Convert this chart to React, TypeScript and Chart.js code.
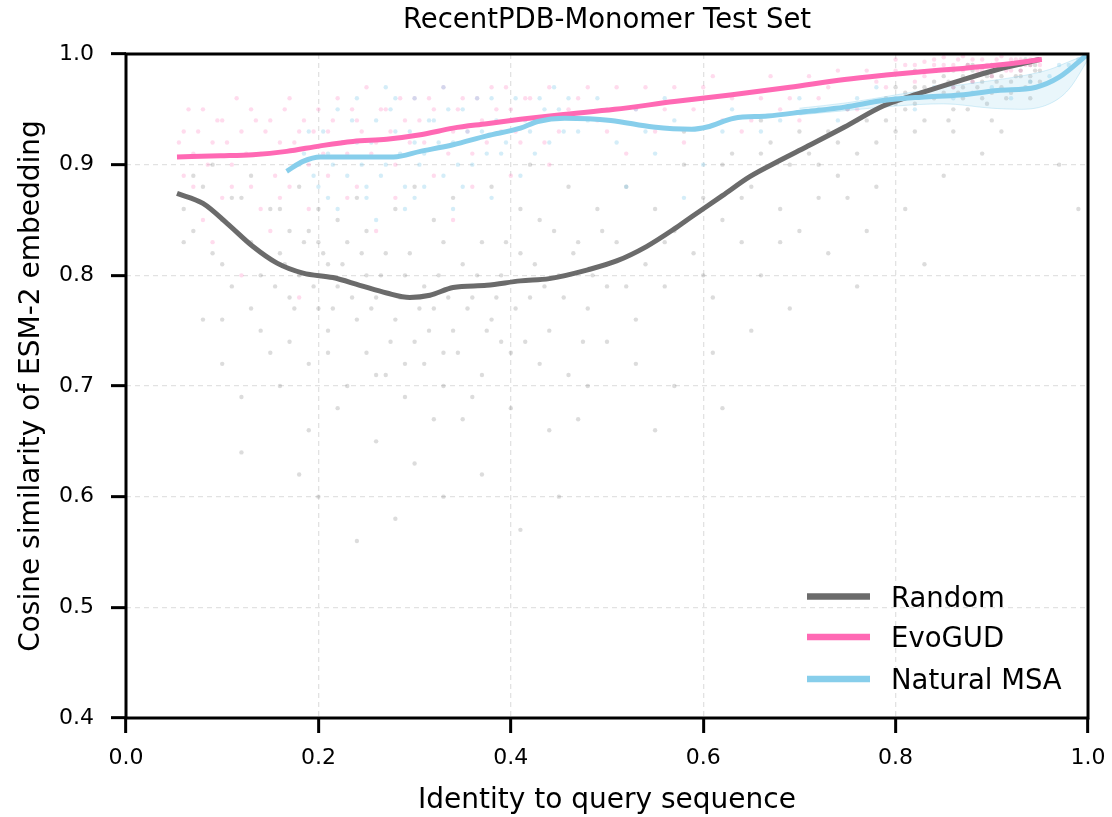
import React, { useEffect, useRef } from 'react';
import { Chart, registerables } from 'chart.js';

Chart.register(...registerables);

const FONT = "'DejaVu Sans', sans-serif";
const titleText = 'RecentPDB-Monomer Test Set';
const xAxisTitle = 'Identity to query sequence';
const yAxisTitle = 'Cosine similarity of ESM-2 embedding';
const seriesNames = ['Random', 'EvoGUD', 'Natural MSA'];
const seriesColors = ['#6b6b6b', '#ff69b4', '#87ceeb'];
const scatterColors = ['rgba(110,110,110,0.24)', 'rgba(255,105,180,0.24)', 'rgba(135,206,235,0.36)'];

// Smoothed trend lines
const randomX = [0.053, 0.08, 0.105, 0.132, 0.157, 0.184, 0.215, 0.243, 0.271, 0.295, 0.316, 0.34, 0.375, 0.41, 0.44, 0.48, 0.51, 0.541, 0.57, 0.588, 0.62, 0.648, 0.68, 0.707, 0.747, 0.787, 0.827, 0.867, 0.906, 0.95];
const randomY = [0.874, 0.865, 0.847, 0.826, 0.811, 0.802, 0.798, 0.791, 0.784, 0.78, 0.782, 0.789, 0.791, 0.795, 0.797, 0.805, 0.813, 0.826, 0.842, 0.853, 0.872, 0.889, 0.904, 0.916, 0.934, 0.953, 0.965, 0.976, 0.986, 0.995];

const evoX = [0.053, 0.098, 0.132, 0.167, 0.202, 0.236, 0.271, 0.306, 0.34, 0.375, 0.41, 0.45, 0.508, 0.57, 0.628, 0.69, 0.747, 0.79, 0.827, 0.87, 0.906, 0.952];
const evoY = [0.907, 0.908, 0.909, 0.912, 0.917, 0.921, 0.923, 0.927, 0.933, 0.937, 0.941, 0.945, 0.95, 0.957, 0.963, 0.97, 0.977, 0.981, 0.984, 0.987, 0.99, 0.995];

const msaX = [0.167, 0.184, 0.202, 0.236, 0.278, 0.306, 0.34, 0.375, 0.41, 0.428, 0.456, 0.504, 0.548, 0.588, 0.604, 0.632, 0.667, 0.707, 0.747, 0.787, 0.827, 0.867, 0.906, 0.946, 0.97, 1.0];
const msaY = [0.894, 0.903, 0.907, 0.907, 0.907, 0.912, 0.918, 0.926, 0.933, 0.939, 0.942, 0.94, 0.934, 0.932, 0.934, 0.942, 0.944, 0.948, 0.952, 0.958, 0.961, 0.963, 0.967, 0.97, 0.979, 1.0];

// Confidence band of Natural MSA (right side)
const bandX = [0.7, 0.75, 0.8, 0.85, 0.9, 0.93, 0.96, 0.98, 1.0];
const bandLow = [0.945, 0.949, 0.953, 0.955, 0.951, 0.95, 0.955, 0.968, 0.995];
const bandHigh = [0.951, 0.956, 0.963, 0.97, 0.976, 0.98, 0.986, 0.993, 1.0];

// Individual samples (scatter clouds), [x, y]
const randomPoints: number[][] = [
  [0.06, 0.86], [0.07, 0.84], [0.08, 0.88], [0.09, 0.82], [0.1, 0.85], [0.11, 0.79], [0.12, 0.87], [0.13, 0.83], [0.14, 0.8], [0.15, 0.86],
  [0.08, 0.76], [0.1, 0.72], [0.12, 0.69], [0.14, 0.75], [0.09, 0.9], [0.13, 0.89],
  [0.16, 0.82], [0.17, 0.78], [0.18, 0.8], [0.19, 0.84], [0.2, 0.77], [0.21, 0.81], [0.22, 0.79], [0.23, 0.83], [0.24, 0.76], [0.25, 0.8],
  [0.17, 0.74], [0.19, 0.72], [0.21, 0.75], [0.23, 0.7], [0.16, 0.86], [0.18, 0.88], [0.2, 0.86], [0.22, 0.85], [0.24, 0.87],
  [0.19, 0.66], [0.22, 0.68], [0.25, 0.73], [0.18, 0.62], [0.24, 0.56], [0.2, 0.6],
  [0.26, 0.78], [0.27, 0.82], [0.28, 0.76], [0.29, 0.8], [0.3, 0.74], [0.31, 0.79], [0.32, 0.77], [0.33, 0.83], [0.34, 0.75], [0.35, 0.81],
  [0.27, 0.71], [0.29, 0.69], [0.31, 0.72], [0.33, 0.7], [0.28, 0.86], [0.3, 0.88], [0.32, 0.85], [0.34, 0.87],
  [0.26, 0.65], [0.3, 0.63], [0.28, 0.58], [0.33, 0.6], [0.35, 0.67],
  [0.36, 0.78], [0.37, 0.83], [0.38, 0.76], [0.39, 0.8], [0.4, 0.73], [0.41, 0.82], [0.42, 0.78], [0.43, 0.85], [0.44, 0.75], [0.45, 0.8],
  [0.46, 0.71], [0.47, 0.83], [0.48, 0.77], [0.49, 0.86], [0.5, 0.79], [0.38, 0.88], [0.42, 0.9], [0.46, 0.88],
  [0.4, 0.68], [0.44, 0.66], [0.48, 0.7], [0.37, 0.62], [0.45, 0.6], [0.41, 0.57],
  [0.51, 0.83], [0.52, 0.88], [0.53, 0.76], [0.54, 0.81], [0.55, 0.86], [0.56, 0.79], [0.57, 0.84], [0.58, 0.9], [0.59, 0.82], [0.6, 0.87],
  [0.61, 0.78], [0.62, 0.85], [0.63, 0.91], [0.64, 0.83], [0.65, 0.88], [0.66, 0.8], [0.67, 0.92], [0.68, 0.86], [0.69, 0.9], [0.7, 0.84],
  [0.53, 0.72], [0.57, 0.7], [0.61, 0.73], [0.65, 0.75], [0.69, 0.77], [0.55, 0.66], [0.62, 0.68], [0.58, 0.93], [0.66, 0.94],
  [0.71, 0.91], [0.72, 0.87], [0.73, 0.93], [0.74, 0.89], [0.75, 0.95], [0.76, 0.91], [0.77, 0.94], [0.78, 0.88], [0.79, 0.96], [0.8, 0.93],
  [0.81, 0.95], [0.82, 0.97], [0.83, 0.94], [0.84, 0.96], [0.85, 0.98], [0.86, 0.95], [0.87, 0.97], [0.88, 0.99], [0.89, 0.96], [0.9, 0.98],
  [0.91, 0.97], [0.92, 0.99], [0.93, 0.98], [0.94, 0.99], [0.95, 0.985], [0.73, 0.82], [0.77, 0.84], [0.81, 0.86], [0.85, 0.89], [0.89, 0.91],
  [0.76, 0.79], [0.83, 0.81], [0.91, 0.93], [0.86, 0.97], [0.88, 0.975], [0.9, 0.965], [0.92, 0.975], [0.94, 0.98], [0.84, 0.975], [0.8, 0.955],
  [0.155, 0.79], [0.165, 0.81], [0.175, 0.77], [0.185, 0.83], [0.195, 0.79], [0.205, 0.82], [0.215, 0.77], [0.225, 0.81], [0.235, 0.78], [0.245, 0.82],
  [0.255, 0.77], [0.265, 0.8], [0.275, 0.74], [0.285, 0.78], [0.295, 0.82], [0.305, 0.77], [0.315, 0.75], [0.325, 0.8], [0.335, 0.78], [0.345, 0.73],
  [0.355, 0.77], [0.365, 0.8], [0.375, 0.75], [0.385, 0.78], [0.395, 0.83], [0.405, 0.77], [0.415, 0.74], [0.425, 0.81], [0.435, 0.79], [0.445, 0.84],
  [0.455, 0.78], [0.465, 0.82], [0.475, 0.74], [0.485, 0.8], [0.495, 0.84], [0.17, 0.84], [0.21, 0.73], [0.25, 0.84], [0.29, 0.72], [0.33, 0.73],
  [0.37, 0.71], [0.41, 0.86], [0.2, 0.83], [0.26, 0.71], [0.32, 0.67], [0.36, 0.69], [0.39, 0.74], [0.43, 0.72], [0.47, 0.67], [0.5, 0.74],
  [0.52, 0.79], [0.56, 0.83], [0.6, 0.8], [0.64, 0.87], [0.68, 0.83], [0.72, 0.9], [0.75, 0.87], [0.78, 0.92], [0.82, 0.93], [0.855, 0.94],
  [0.865, 0.965], [0.875, 0.95], [0.885, 0.97], [0.895, 0.955], [0.905, 0.975], [0.915, 0.96], [0.925, 0.98], [0.935, 0.97], [0.945, 0.985], [0.95, 0.975],
  [0.87, 0.98], [0.9, 0.985], [0.93, 0.99], [0.82, 0.955], [0.79, 0.94], [0.06, 0.83], [0.07, 0.89], [0.1, 0.81], [0.11, 0.87], [0.13, 0.77],
  [0.15, 0.73], [0.12, 0.64], [0.16, 0.7], [0.1, 0.76],
  [0.8, 0.97], [0.81, 0.965], [0.82, 0.985], [0.83, 0.97], [0.84, 0.985], [0.85, 0.965], [0.86, 0.985], [0.87, 0.96], [0.88, 0.985], [0.89, 0.975],
  [0.9, 0.99], [0.91, 0.98], [0.92, 0.965], [0.93, 0.985], [0.94, 0.975], [0.945, 0.99], [0.95, 0.995], [0.855, 0.975], [0.875, 0.99], [0.895, 0.98],
  [0.915, 0.99], [0.935, 0.995], [0.78, 0.95], [0.76, 0.94], [0.74, 0.92], [0.7, 0.93], [0.66, 0.91], [0.62, 0.9], [0.86, 0.93], [0.9, 0.94],
  [0.94, 0.96], [0.97, 0.9], [0.99, 0.86],
];

const evoPoints: number[][] = [
  [0.06, 0.93], [0.07, 0.91], [0.08, 0.95], [0.09, 0.92], [0.1, 0.94], [0.11, 0.9], [0.12, 0.93], [0.13, 0.95], [0.14, 0.91], [0.15, 0.94],
  [0.16, 0.92], [0.17, 0.96], [0.18, 0.93], [0.19, 0.9], [0.2, 0.95], [0.07, 0.88], [0.1, 0.87], [0.13, 0.88], [0.16, 0.87], [0.19, 0.86],
  [0.09, 0.83], [0.12, 0.8], [0.15, 0.84], [0.18, 0.78], [0.08, 0.85],
  [0.21, 0.93], [0.22, 0.96], [0.23, 0.91], [0.24, 0.94], [0.25, 0.97], [0.26, 0.92], [0.27, 0.95], [0.28, 0.9], [0.29, 0.94], [0.3, 0.96],
  [0.31, 0.92], [0.32, 0.95], [0.33, 0.97], [0.34, 0.93], [0.35, 0.96], [0.36, 0.91], [0.37, 0.94], [0.38, 0.97], [0.39, 0.93], [0.4, 0.95],
  [0.41, 0.92], [0.42, 0.96], [0.43, 0.94], [0.44, 0.97], [0.45, 0.93], [0.24, 0.88], [0.28, 0.87], [0.32, 0.89], [0.36, 0.88], [0.4, 0.89],
  [0.44, 0.9], [0.26, 0.84], [0.34, 0.85],
  [0.47, 0.96], [0.49, 0.94], [0.51, 0.97], [0.53, 0.95], [0.55, 0.93], [0.57, 0.97], [0.59, 0.95], [0.61, 0.98], [0.63, 0.96], [0.65, 0.94],
  [0.67, 0.98], [0.69, 0.96], [0.71, 0.98], [0.73, 0.97], [0.75, 0.95], [0.77, 0.985], [0.79, 0.97], [0.81, 0.99], [0.83, 0.98], [0.85, 0.99],
  [0.87, 0.985], [0.89, 0.995], [0.91, 0.99], [0.93, 0.995], [0.95, 0.99], [0.52, 0.91], [0.58, 0.92], [0.64, 0.93], [0.7, 0.94], [0.76, 0.95],
  [0.86, 0.97], [0.9, 0.98], [0.92, 0.985], [0.94, 0.99], [0.88, 0.975],
  [0.055, 0.92], [0.065, 0.95], [0.075, 0.93], [0.085, 0.9], [0.095, 0.94], [0.105, 0.92], [0.115, 0.96], [0.125, 0.91], [0.135, 0.94], [0.145, 0.93],
  [0.155, 0.89], [0.165, 0.95], [0.175, 0.92], [0.185, 0.94], [0.195, 0.93], [0.205, 0.91], [0.215, 0.94], [0.225, 0.92], [0.235, 0.95], [0.245, 0.93],
  [0.255, 0.91], [0.265, 0.95], [0.275, 0.93], [0.285, 0.96], [0.295, 0.92], [0.305, 0.94], [0.315, 0.96], [0.325, 0.93], [0.335, 0.91], [0.345, 0.95],
  [0.355, 0.93], [0.365, 0.96], [0.375, 0.92], [0.385, 0.95], [0.395, 0.97], [0.405, 0.93], [0.415, 0.96], [0.425, 0.94], [0.435, 0.92], [0.46, 0.95],
  [0.48, 0.97], [0.5, 0.93], [0.54, 0.97], [0.56, 0.95], [0.6, 0.97], [0.62, 0.94], [0.66, 0.96], [0.68, 0.95], [0.72, 0.96], [0.74, 0.985],
  [0.78, 0.975], [0.8, 0.985], [0.82, 0.975], [0.84, 0.99], [0.855, 0.985], [0.865, 0.995], [0.875, 0.99], [0.885, 0.985], [0.895, 0.99], [0.905, 0.995],
  [0.915, 0.985], [0.925, 0.995], [0.935, 0.99], [0.945, 0.995], [0.06, 0.89], [0.11, 0.88], [0.14, 0.86], [0.17, 0.88], [0.21, 0.89], [0.23, 0.87],
  [0.8, 0.995], [0.82, 0.99], [0.84, 0.995], [0.86, 0.99], [0.88, 0.995], [0.9, 0.99], [0.92, 0.995], [0.94, 0.995], [0.87, 0.998], [0.91, 0.998],
  [0.93, 0.985], [0.95, 0.995], [0.83, 0.993], [0.85, 0.997], [0.89, 0.985],
];

const msaPoints: number[][] = [
  [0.18, 0.9], [0.19, 0.93], [0.2, 0.88], [0.21, 0.91], [0.22, 0.95], [0.23, 0.89], [0.24, 0.92], [0.25, 0.87], [0.26, 0.94], [0.27, 0.9],
  [0.28, 0.93], [0.29, 0.88], [0.3, 0.96], [0.31, 0.91], [0.32, 0.94], [0.33, 0.89], [0.34, 0.92], [0.35, 0.95], [0.36, 0.9], [0.37, 0.93],
  [0.38, 0.96], [0.39, 0.91], [0.4, 0.94], [0.41, 0.89], [0.42, 0.93], [0.43, 0.96], [0.44, 0.92], [0.45, 0.95], [0.22, 0.86], [0.26, 0.85],
  [0.3, 0.87], [0.34, 0.86], [0.38, 0.87], [0.27, 0.97], [0.33, 0.97], [0.24, 0.96],
  [0.47, 0.93], [0.49, 0.96], [0.51, 0.92], [0.53, 0.95], [0.55, 0.91], [0.57, 0.94], [0.6, 0.9], [0.63, 0.95], [0.66, 0.93], [0.7, 0.96],
  [0.74, 0.94], [0.78, 0.97], [0.82, 0.95], [0.86, 0.96], [0.9, 0.97], [0.94, 0.975], [0.97, 0.99], [0.99, 0.995], [0.52, 0.88], [0.58, 0.87],
  [0.185, 0.91], [0.195, 0.89], [0.205, 0.93], [0.215, 0.9], [0.225, 0.92], [0.235, 0.94], [0.245, 0.9], [0.255, 0.92], [0.265, 0.89], [0.275, 0.95],
  [0.285, 0.91], [0.295, 0.93], [0.305, 0.9], [0.315, 0.94], [0.325, 0.92], [0.335, 0.95], [0.345, 0.9], [0.355, 0.93], [0.365, 0.96], [0.375, 0.91],
  [0.385, 0.94], [0.395, 0.92], [0.405, 0.96], [0.415, 0.94], [0.425, 0.91], [0.435, 0.95], [0.445, 0.97], [0.455, 0.93], [0.21, 0.87], [0.25, 0.88],
  [0.29, 0.86], [0.31, 0.88], [0.35, 0.88], [0.28, 0.96], [0.3, 0.92], [0.46, 0.96], [0.48, 0.94], [0.5, 0.95], [0.54, 0.93], [0.56, 0.96],
  [0.62, 0.93], [0.68, 0.94], [0.72, 0.95], [0.76, 0.96], [0.8, 0.96], [0.84, 0.97], [0.88, 0.965], [0.92, 0.96], [0.96, 0.98], [0.98, 0.99],
];

const xMin = 0;
const xMax = 1;
const xStep = 0.2;
const yMin = 0.4;
const yMax = 1.0;
const yStep = 0.1;

const zip = (xs: number[], ys: number[]) => xs.map((x, i) => ({ x, y: ys[i] }));
const toXY = (pts: number[][]) => pts.map(([x, y]) => ({ x, y }));

const decorPlugin = {
  id: 'decor',
  beforeDraw(chart: any) {
    const ctx = chart.ctx;
    ctx.save();
    ctx.fillStyle = '#ffffff';
    ctx.fillRect(0, 0, chart.width, chart.height);
    ctx.restore();
  },
  afterDraw(chart: any) {
    const ctx = chart.ctx;
    const a = chart.chartArea;
    ctx.save();
    // full box spines
    ctx.strokeStyle = '#000';
    ctx.lineWidth = 3;
    ctx.strokeRect(a.left, a.top, a.right - a.left, a.bottom - a.top);
    // title
    ctx.fillStyle = '#000';
    ctx.textAlign = 'center';
    ctx.textBaseline = 'alphabetic';
    ctx.font = `27.5px ${FONT}`;
    ctx.fillText(titleText, (a.left + a.right) / 2, 28);
    // axis titles
    ctx.font = `28px ${FONT}`;
    ctx.fillText(xAxisTitle, (a.left + a.right) / 2, 808);
    ctx.save();
    ctx.translate(39, (a.top + a.bottom) / 2);
    ctx.rotate(-Math.PI / 2);
    ctx.fillText(yAxisTitle, 0, 0);
    ctx.restore();
    // legend
    const legendLineY = [596.5, 637, 679];
    ctx.textAlign = 'left';
    ctx.font = `27.5px ${FONT}`;
    seriesNames.forEach((name, i) => {
      ctx.strokeStyle = seriesColors[i];
      ctx.lineWidth = 6.5;
      ctx.beginPath();
      ctx.moveTo(807, legendLineY[i]);
      ctx.lineTo(870, legendLineY[i]);
      ctx.stroke();
      ctx.fillStyle = '#000';
      ctx.fillText(name, 891, legendLineY[i] + 10.2);
    });
    ctx.restore();
  },
};

export default function App() {
  const canvasRef = useRef<HTMLCanvasElement | null>(null);

  useEffect(() => {
    document.body.style.margin = '0';
    const canvas = canvasRef.current;
    if (!canvas) return;

    const scatterDs = (pts: number[][], color: string, order: number) => ({
      type: 'line' as const,
      data: toXY(pts),
      showLine: false,
      pointRadius: 2.2,
      pointBorderWidth: 0,
      pointBackgroundColor: color,
      pointBorderColor: color,
      pointHoverRadius: 0,
      order,
    });

    const lineDs = (data: any[], color: string, order: number) => ({
      type: 'line' as const,
      data,
      borderColor: color,
      borderWidth: 5,
      pointRadius: 0,
      fill: false,
      cubicInterpolationMode: 'monotone' as const,
      order,
    });

    const chart = new Chart(canvas, {
      type: 'line',
      data: {
        datasets: [
          scatterDs(randomPoints, scatterColors[0], 10),
          scatterDs(evoPoints, scatterColors[1], 9),
          scatterDs(msaPoints, scatterColors[2], 8),
          {
            type: 'line',
            data: zip(bandX, bandLow),
            borderColor: 'rgba(135,206,235,0.35)',
            borderWidth: 1,
            pointRadius: 0,
            fill: false,
            cubicInterpolationMode: 'monotone',
            order: 5,
          } as any,
          {
            type: 'line',
            data: zip(bandX, bandHigh),
            borderColor: 'rgba(135,206,235,0.35)',
            borderWidth: 1,
            backgroundColor: 'rgba(135,206,235,0.18)',
            pointRadius: 0,
            fill: '-1',
            cubicInterpolationMode: 'monotone',
            order: 5,
          } as any,
          lineDs(zip(randomX, randomY), seriesColors[0], 3),
          lineDs(zip(evoX, evoY), seriesColors[1], 2),
          lineDs(zip(msaX, msaY), seriesColors[2], 1),
        ],
      },
      options: {
        animation: false,
        responsive: false,
        maintainAspectRatio: false,
        events: [],
        layout: { padding: { top: 54, right: 24, left: 0, bottom: 0 } },
        plugins: {
          legend: { display: false },
          title: { display: false },
          tooltip: { enabled: false },
        },
        scales: {
          x: {
            type: 'linear',
            min: xMin,
            max: xMax,
            afterFit: (s: any) => {
              s.height = 99;
              s.paddingLeft = 0;
              s.paddingRight = 0;
            },
            ticks: {
              stepSize: xStep,
              padding: 12,
              color: '#000',
              font: { family: FONT, size: 22 },
              callback: (v: any) => Number(v).toFixed(1),
            },
            grid: {
              color: '#e2e2e2',
              lineWidth: 1.3,
              drawTicks: true,
              tickLength: 15,
              tickWidth: 3,
              tickColor: '#000',
            },
            border: { display: false, dash: [5, 4] },
          },
          y: {
            type: 'linear',
            min: yMin,
            max: yMax,
            afterFit: (s: any) => {
              s.width = 126;
              s.paddingTop = 0;
              s.paddingBottom = 0;
            },
            ticks: {
              stepSize: yStep,
              padding: 17,
              color: '#000',
              font: { family: FONT, size: 22 },
              callback: (v: any) => Number(v).toFixed(1),
            },
            grid: {
              color: '#e2e2e2',
              lineWidth: 1.3,
              drawTicks: true,
              tickLength: 15,
              tickWidth: 3,
              tickColor: '#000',
            },
            border: { display: false, dash: [5, 4] },
          },
        },
      },
      plugins: [decorPlugin],
    } as any);

    return () => {
      chart.destroy();
    };
  }, []);

  return (
    <div style={{ width: 1112, height: 817 }}>
      <canvas ref={canvasRef} width={1112} height={817} style={{ display: 'block' }} />
    </div>
  );
}
